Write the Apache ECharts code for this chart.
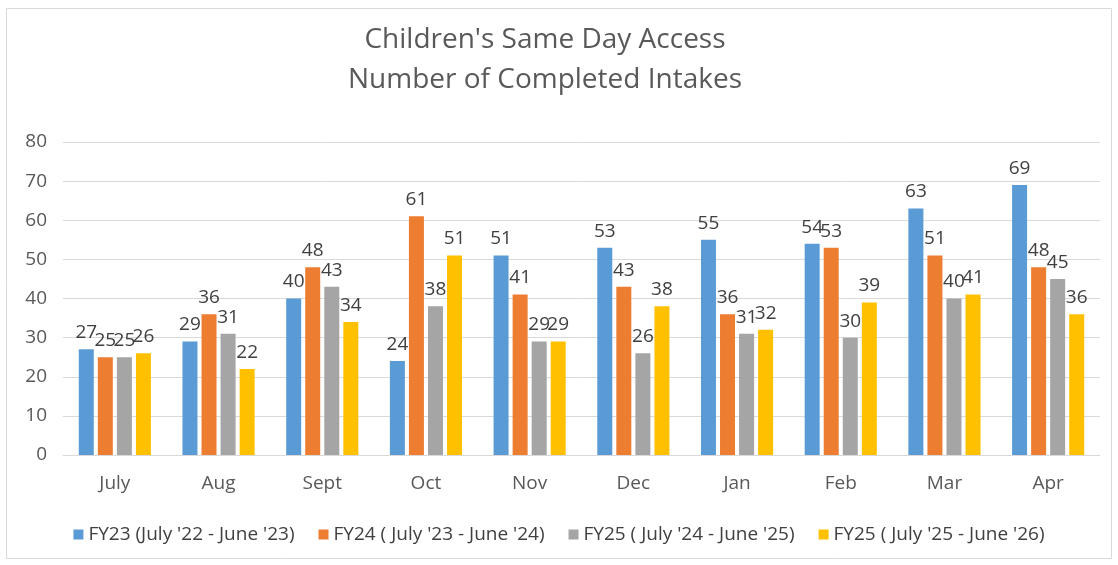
<!DOCTYPE html>
<html>
<head>
<meta charset="utf-8">
<script src="https://cdn.jsdelivr.net/npm/echarts@6/dist/echarts.min.js"></script>
<style>
  html, body { margin: 0; padding: 0; background: #fff; }
  #main { width: 1118px; height: 565px; }
</style>
</head>
<body>
<div id="main"></div>
<script>
// months on the x axis
var months = ['July', 'Aug', 'Sept', 'Oct', 'Nov', 'Dec', 'Jan', 'Feb', 'Mar', 'Apr'];
var seriesNames = [
  "FY23 (July '22 - June '23)",
  "FY24 ( July '23 - June '24)",
  "FY25 ( July '24 - June '25)",
  "FY25 ( July '25 - June '26)"
];
var fy23 = [27, 29, 40, 24, 51, 53, 55, 54, 63, 69];
var fy24 = [25, 36, 48, 61, 41, 43, 36, 53, 51, 48];
var fy25 = [25, 31, 43, 38, 29, 26, 31, 30, 40, 45];
var fy26 = [26, 22, 34, 51, 29, 38, 32, 39, 41, 36];
var colors = ['#5B9BD5', '#ED7D31', '#A5A5A5', '#FFC000'];

var chart = echarts.init(document.getElementById('main'));
var font = '"Open Sans", "Noto Sans", sans-serif';

function bar(i, data) {
  return {
    name: seriesNames[i],
    type: 'bar',
    data: data,
    barWidth: 15,
    barGap: '27%',
    itemStyle: { color: colors[i] },
    label: {
      show: true,
      position: 'top',
      distance: 7,
      color: '#404040',
      fontSize: 19,
      fontFamily: font
    }
  };
}

var option = {
  animation: false,
  backgroundColor: '#fff',
  textStyle: { fontFamily: font },
  graphic: [{
    type: 'rect',
    shape: { x: 6.5, y: 8.5, width: 1105, height: 550 },
    style: { fill: 'none', stroke: '#d9d9d9', lineWidth: 1 }
  }],
  title: {
    text: "Children's Same Day Access\nNumber of Completed Intakes",
    left: 540,
    textAlign: 'center',
    top: 15,
    textStyle: {
      color: '#595959',
      fontSize: 28,
      fontWeight: 'normal',
      lineHeight: 40,
      fontFamily: font
    }
  },
  legend: {
    bottom: 16,
    left: 'center',
    itemWidth: 10,
    itemHeight: 10,
    itemGap: 24,
    icon: 'rect',
    textStyle: { color: '#404040', fontSize: 19, fontFamily: font }
  },
  grid: {
    left: 63,
    right: 18,
    top: 142,
    bottom: 110
  },
  xAxis: {
    type: 'category',
    data: months,
    axisTick: { show: false },
    axisLine: { lineStyle: { color: '#d9d9d9', width: 1 } },
    axisLabel: { color: '#595959', fontSize: 19, margin: 19, fontFamily: font }
  },
  yAxis: {
    type: 'value',
    min: 0,
    max: 80,
    interval: 10,
    axisLine: { show: false },
    axisTick: { show: false },
    axisLabel: { color: '#595959', fontSize: 19, margin: 16, fontFamily: font },
    splitLine: { lineStyle: { color: '#d9d9d9', width: 1 } }
  },
  series: [bar(0, fy23), bar(1, fy24), bar(2, fy25), bar(3, fy26)]
};
chart.setOption(option);
</script>
</body>
</html>
